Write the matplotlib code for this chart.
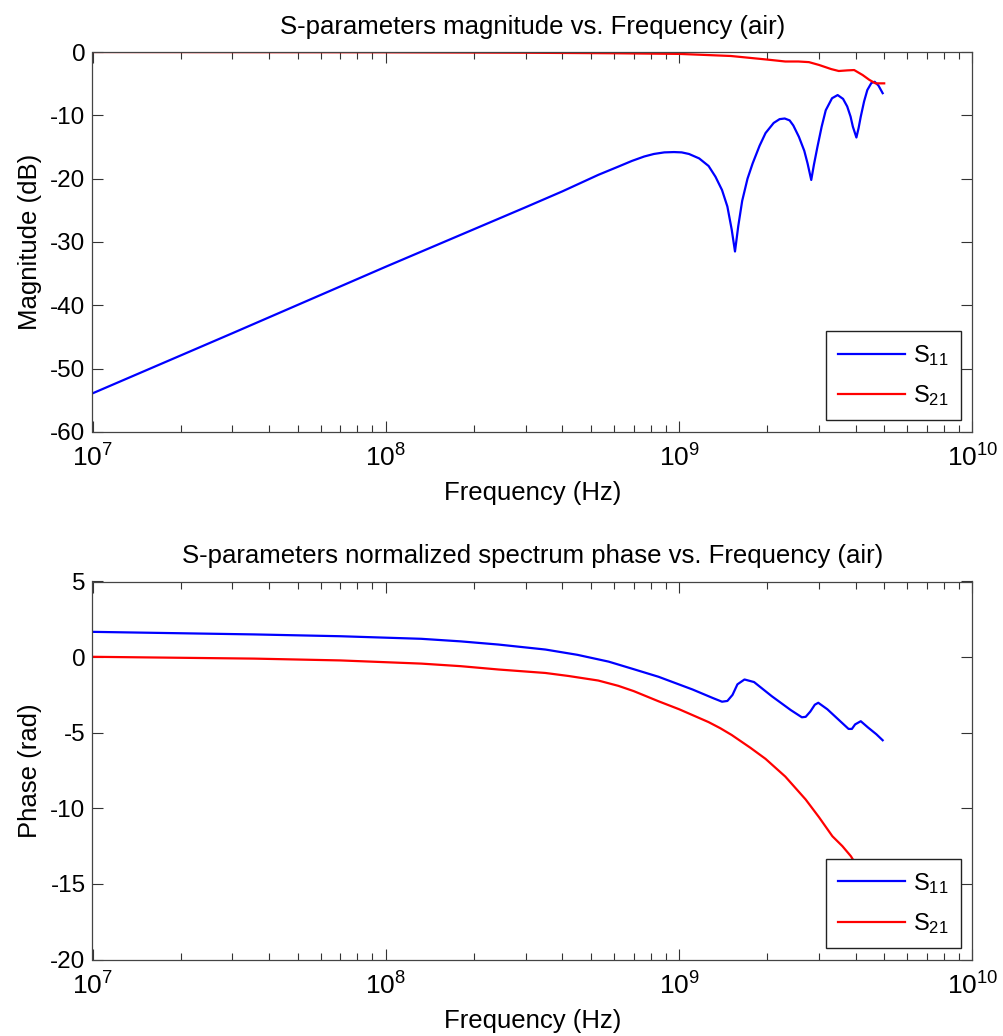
import numpy as np
import matplotlib
matplotlib.use("Agg")
import matplotlib.pyplot as plt

plt.rcParams['font.family'] = ['Liberation Sans', 'DejaVu Sans']
plt.rcParams['mathtext.fontset'] = 'custom'
plt.rcParams['mathtext.rm'] = 'Liberation Sans'
plt.rcParams['mathtext.it'] = 'Liberation Sans'
plt.rcParams['axes.unicode_minus'] = False

# magnitude (dB)
f_s11_mag = [1e7, 3e7, 1e8, 3e8, 4e8, 5.3e8, 6.2e8, 6.9e8, 7.6e8, 8.2e8, 8.9e8, 9.6e8, 1.02e9,
             1.08e9, 1.17e9, 1.26e9, 1.33e9, 1.40e9, 1.46e9, 1.51e9, 1.55e9, 1.59e9, 1.64e9,
             1.71e9, 1.78e9, 1.88e9, 1.97e9, 2.1e9, 2.2e9, 2.29e9, 2.38e9, 2.45e9, 2.56e9,
             2.67e9, 2.74e9, 2.82e9, 2.88e9, 2.96e9, 3.06e9, 3.16e9, 3.32e9, 3.47e9, 3.62e9,
             3.74e9, 3.84e9, 3.91e9, 4.02e9, 4.09e9, 4.16e9, 4.27e9, 4.38e9, 4.52e9, 4.64e9,
             4.78e9, 4.94e9]
s11_mag = [-53.9, -44.4, -33.9, -24.5, -22.0, -19.4, -18.1, -17.2, -16.5, -16.1, -15.85, -15.8, -15.85,
           -16.1, -16.8, -18.0, -19.7, -21.8, -24.4, -28.0, -31.5, -27.5, -23.5,
           -20.0, -17.6, -14.8, -12.8, -11.2, -10.6, -10.5, -10.8, -11.6, -13.4,
           -15.6, -17.6, -20.2, -17.8, -15.0, -11.8, -9.2, -7.3, -6.8, -7.4,
           -8.6, -10.2, -11.8, -13.5, -12.0, -10.2, -7.8, -6.0, -4.9, -4.7,
           -5.3, -6.5]

f_s21_mag = [1e7, 1e8, 3e8, 6e8, 1e9, 1.5e9, 2.0e9, 2.3e9, 2.55e9, 2.77e9, 3.0e9, 3.3e9,
             3.5e9, 3.75e9, 3.95e9, 4.22e9, 4.45e9, 4.67e9, 5e9]
s21_mag = [0.0, -0.05, -0.12, -0.2, -0.3, -0.63, -1.2, -1.5, -1.5, -1.6, -2.05, -2.7,
           -3.0, -2.9, -2.85, -3.63, -4.4, -4.95, -4.95]

# phase (rad)
f_s11_ph = [1e7, 3.56e7, 7e7, 1.32e8, 1.8e8, 2.42e8, 3.5e8, 4.5e8, 5.75e8, 7e8, 8.5e8, 1.11e9,
            1.3e9, 1.4e9, 1.46e9, 1.52e9, 1.58e9, 1.67e9, 1.8e9, 2.07e9, 2.4e9, 2.62e9, 2.7e9,
            2.8e9, 2.9e9, 2.98e9, 3.2e9, 3.5e9, 3.78e9, 3.88e9, 3.98e9, 4.16e9, 4.4e9, 4.7e9,
            4.94e9]
s11_ph = [1.67, 1.5, 1.38, 1.21, 1.04, 0.83, 0.5, 0.15, -0.3, -0.8, -1.3, -2.14,
          -2.7, -2.95, -2.9, -2.5, -1.8, -1.48, -1.65, -2.59, -3.5, -3.98, -3.95,
          -3.6, -3.15, -3.02, -3.45, -4.15, -4.75, -4.75, -4.45, -4.24, -4.65, -5.1,
          -5.5]

f_s21_ph = [1e7, 3.56e7, 7e7, 1.32e8, 1.8e8, 2.42e8, 3.5e8, 4.2e8, 5.3e8, 6.2e8, 7e8, 8.5e8,
            1.0e9, 1.1e9, 1.26e9, 1.38e9, 1.51e9, 1.75e9, 1.97e9, 2.3e9, 2.7e9, 3.0e9, 3.33e9,
            3.6e9, 3.85e9, 4.4e9, 5e9]
s21_ph = [0.02, -0.1, -0.22, -0.43, -0.6, -0.82, -1.05, -1.25, -1.55, -1.9, -2.25, -2.92,
          -3.45, -3.8, -4.3, -4.7, -5.15, -6.0, -6.73, -7.9, -9.42, -10.6, -11.85,
          -12.5, -13.17, -15.0, -17.0]

labels = [r'S$_{\mathregular{11}}$', r'S$_{\mathregular{21}}$']
blue = '#0000ff'
red = '#ff0000'

fig = plt.figure(figsize=(10.04, 10.36), dpi=100)
ax1 = fig.add_axes([92.5 / 1004, 1 - 432 / 1036, 880 / 1004, 380 / 1036])
ax2 = fig.add_axes([92.5 / 1004, 1 - 959.5 / 1036, 880 / 1004, 378 / 1036])


def style(ax):
    ax.set_xscale('log')
    ax.set_xlim(1e7, 1e10)
    ax.set_xticks([1e7, 1e8, 1e9, 1e10])
    ax.tick_params(which='both', direction='in', top=True, right=True, color='#333333')
    ax.tick_params(axis='y', labelsize=17.5)
    ax.tick_params(axis='x', labelsize=19)
    ax.tick_params(which='major', length=8, width=0.8)
    ax.tick_params(axis='x', which='major', pad=9)
    ax.tick_params(axis='y', which='major', pad=5)
    ax.tick_params(which='minor', length=5, width=0.8)
    for sp in ax.spines.values():
        sp.set_color('#444444')
        sp.set_linewidth(0.9)
    ax.set_xlabel('Frequency (Hz)', fontsize=18.5, labelpad=7)
    leg = ax.legend(loc='lower right', fontsize=17, handlelength=2.85, fancybox=False,
                    edgecolor='#222222', framealpha=1, borderaxespad=0.5,
                    labelspacing=0.65, handletextpad=0.35, borderpad=0.5)
    leg.get_frame().set_linewidth(1.0)


ax1.plot(f_s11_mag, s11_mag, color=blue, lw=1.6, label=labels[0])
ax1.plot(f_s21_mag, s21_mag, color=red, lw=1.6, label=labels[1])
ax1.set_ylim(-60, 0)
ax1.set_yticks(np.arange(-60, 1, 10))
ax1.set_ylabel('Magnitude (dB)', fontsize=18.5, labelpad=6)
ax1.set_title('S-parameters magnitude vs. Frequency (air)', fontsize=18.5, pad=13)
style(ax1)

ax2.plot(f_s11_ph, s11_ph, color=blue, lw=1.6, label=labels[0])
ax2.plot(f_s21_ph, s21_ph, color=red, lw=1.6, label=labels[1])
ax2.set_ylim(-20, 5)
ax2.set_yticks(np.arange(-20, 6, 5))
ax2.set_ylabel('Phase (rad)', fontsize=18.5, labelpad=6)
ax2.set_title('S-parameters normalized spectrum phase vs. Frequency (air)', fontsize=18.5, pad=13)
style(ax2)

fig.savefig('out.png', dpi=100)
